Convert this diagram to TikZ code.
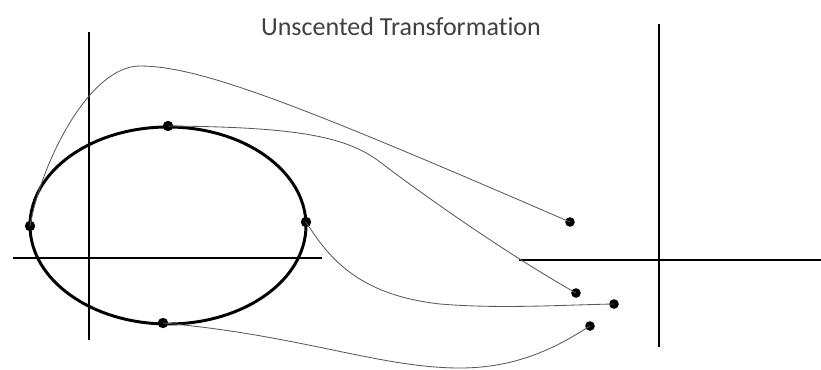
\documentclass[tikz,border=0pt]{standalone}
\usepackage{fontspec}
\setmainfont{Carlito}[Ligatures=NoCommon]

\begin{document}
\begin{tikzpicture}[x=0.025cm, y=-0.025cm,
    axe/.style={line width=2.1pt, black},
    lien/.style={line width=0.6pt, black!65},
    point/.style={circle, fill=black, inner sep=0pt, minimum size=2.6mm}]
    \useasboundingbox (0,0) rectangle (821,369);

    % Titre
    \node[black!75, font=\fontsize{18.5}{22}\selectfont] (titre) at (401,27) {Unscented Transformation};

    % Axes de depart
    \draw[axe] (89,32) -- (89,340);
    \draw[axe] (13,258) -- (322,258);

    % Axes d'arrivee
    \draw[axe] (659,24) -- (659,347);
    \draw[axe] (519,260) -- (821,260);

    % Ellipse et points sigma
    \draw[axe] (168,225.5) ellipse [x radius=138, y radius=98.5];
    \node[point] (L) at (30,226) {};
    \node[point] (T) at (168,126) {};
    \node[point] (R) at (306,222) {};
    \node[point] (B) at (163,323) {};

    % Points transformes
    \node[point, minimum size=2.4mm] (S1) at (570,222) {};
    \node[point, minimum size=2.4mm] (S2) at (576,293) {};
    \node[point, minimum size=2.4mm] (S3) at (614,304) {};
    \node[point, minimum size=2.4mm] (S4) at (590,326) {};

    % Liens entre les points
    \draw[lien] (L.center) .. controls (42,160) and (90,66) .. (140,66)
                .. controls (200,66) and (300,105) .. (S1.center);
    \draw[lien] (T.center) .. controls (290,127) and (345,135) .. (380,162)
                .. controls (414,188) and (500,250) .. (S2.center);
    \draw[lien] (R.center) .. controls (330,260) and (360,295) .. (440,304)
                .. controls (500,309) and (560,305) .. (S3.center);
    \draw[lien] (B.center) .. controls (300,335) and (380,368) .. (460,368)
                .. controls (520,368) and (560,345) .. (S4.center);
\end{tikzpicture}
\end{document}
